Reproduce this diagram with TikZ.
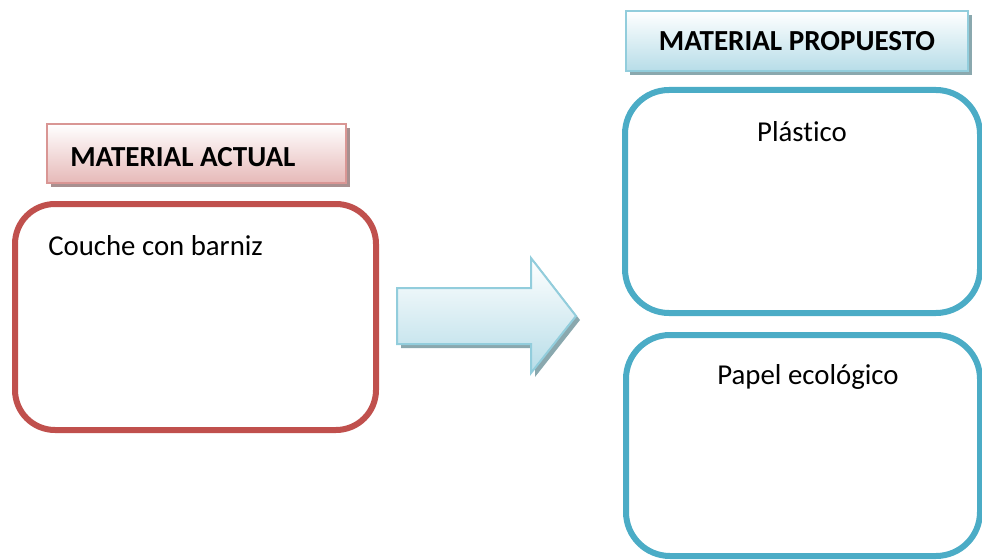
\documentclass[tikz,border=0pt]{standalone}
\usepackage{fontspec}
\setmainfont[Ligatures=NoCommon]{Carlito}
\begin{document}
\begin{tikzpicture}[x=0.75pt,y=-0.75pt,
  hdrred/.style={draw=hdrredline,line width=1.5pt,top color=white,bottom color=hdrredfill},
  hdrblue/.style={draw=hdrblueline,line width=1.5pt,top color=white,bottom color=hdrbluefill},
  boxred/.style={draw=boxredline,line width=4.5pt,rounded corners=30pt,fill=white},
  boxblue/.style={draw=boxblueline,line width=4.5pt,rounded corners=33pt,fill=white},
  hdrtext/.style={font=\fontsize{21.8}{26}\selectfont\bfseries,inner sep=0pt},
  bodytext/.style={font=\fontsize{21.6}{26}\selectfont,inner sep=0pt}]
\definecolor{hdrredline}{HTML}{D99694}
\definecolor{hdrredfill}{HTML}{E6B9B8}
\definecolor{hdrblueline}{HTML}{92CDDC}
\definecolor{hdrbluefill}{HTML}{B7DDE8}
\definecolor{boxredline}{HTML}{C0504D}
\definecolor{boxblueline}{HTML}{4BACC6}
\definecolor{shadred}{HTML}{A89090}
\definecolor{shadblue}{HTML}{8AA8AE}
\useasboundingbox (0,0) rectangle (982,560);
% headers
\fill[shadred] (51,128) rectangle (350,187);
\path[hdrred] (47,124) rectangle (346,183);
\node[hdrtext,anchor=west] (hA) at (70,157) {MATERIAL ACTUAL};
\fill[shadblue] (630,15) rectangle (972,75);
\path[hdrblue] (626,11) rectangle (968,71);
\node[hdrtext] (hP) at (797,41) {MATERIAL PROPUESTO};
% boxes
\draw[boxred] (15,204) rectangle (376,430);
\node[bodytext,anchor=west] (tA) at (48,246) {Couche con barniz};
\draw[boxblue] (625,90) rectangle (980,313);
\node[bodytext] (tP1) at (802,132) {Plástico};
\draw[boxblue] (626,335) rectangle (980,556);
\node[bodytext] (tP2) at (808,377) {Papel ecológico};
% arrow
\fill[shadblue] (401,292) -- (535,292) -- (535,262) -- (580,320) -- (535,377) -- (535,348) -- (401,348) -- cycle;
\path[draw=hdrblueline,line width=1.5pt,top color=white,bottom color=hdrbluefill]
  (397,288) -- (531,288) -- (531,258) -- (576,316) -- (531,373) -- (531,344) -- (397,344) -- cycle;
\end{tikzpicture}
\end{document}
